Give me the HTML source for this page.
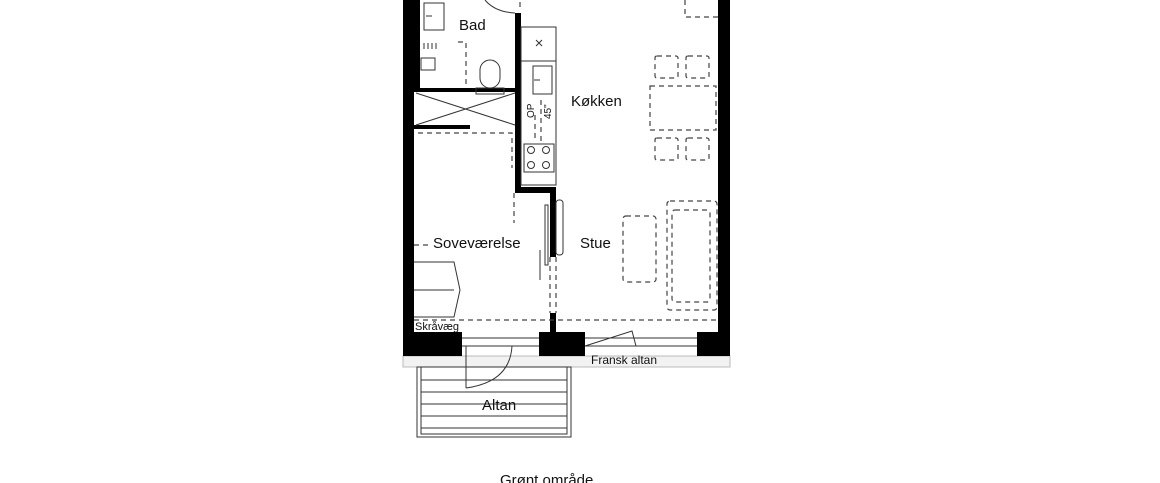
<!DOCTYPE html>
<html><head><meta charset="utf-8"><style>
html,body{margin:0;padding:0;background:#fff;overflow:hidden;}
svg{display:block;}
text{font-family:"Liberation Sans",sans-serif;fill:#111;}
</style></head><body>
<svg width="1160" height="483" viewBox="0 0 1160 483" xmlns="http://www.w3.org/2000/svg">
<rect x="403" y="356" width="327" height="11" fill="#f2f2f2" stroke="#bbb"/>
<g fill="#000">
<rect x="403" y="0" width="11" height="335"/>
<rect x="718" y="0" width="12" height="335"/>
<rect x="414" y="0" width="6" height="92"/>
<rect x="414" y="88" width="103" height="4"/>
<rect x="414" y="125" width="56" height="4"/>
<rect x="515" y="13" width="6" height="180"/>
<rect x="515" y="187" width="41" height="6"/>
<rect x="550" y="187" width="6" height="70"/>
<rect x="550" y="313" width="6" height="20"/>
<rect x="403" y="332" width="59" height="24"/>
<rect x="539" y="332" width="46" height="24"/>
<rect x="697" y="332" width="33" height="24"/>
</g>
<g fill="none" stroke="#333" stroke-width="1">
<rect x="424" y="3" width="20" height="27"/>
<line x1="426" y1="16" x2="432" y2="16"/>
<path d="M485 0 Q495 12 515 13"/>
<rect x="480" y="60" width="20" height="28" rx="10"/>
<rect x="476" y="88" width="28" height="6"/>
<rect x="421" y="58" width="14" height="12"/>
<path d="M424 43 v6 M428 43 v6 M432 43 v6 M436 43 v6"/>
<line x1="416" y1="93" x2="515" y2="125"/>
<line x1="416" y1="125" x2="515" y2="93"/>
<rect x="521" y="27" width="35" height="158"/>
<line x1="521" y1="61" x2="556" y2="61"/>
<rect x="533" y="66" width="19" height="28"/>
<line x1="534" y1="80" x2="540" y2="80"/>
<path d="M536 40 l6 6 M542 40 l-6 6"/>
<rect x="524" y="144" width="30" height="28"/>
<circle cx="531" cy="150" r="3.5"/><circle cx="546" cy="150" r="3.5"/>
<circle cx="531" cy="165" r="3.5"/><circle cx="546" cy="165" r="3.5"/>
<rect x="545" y="205" width="3" height="60"/>
<rect x="556" y="200" width="7" height="55" rx="3"/>
<line x1="540" y1="250" x2="540" y2="280"/>
<path d="M414 262 H454 L460 290 L454 317 H414 M414 290 H454"/>
<path d="M462 338 H539 M462 346 H539 M585 338 H697 M585 346 H697"/>
<path d="M585 346 L632 331 L636 346"/>
<rect x="417" y="367" width="154" height="70"/>
<rect x="421" y="367" width="146" height="67"/>
<path d="M421 380 H567 M421 392 H567 M421 404 H567 M421 416 H567 M421 428 H567"/>
<line x1="466" y1="346" x2="466" y2="388"/>
<path d="M466 388 Q510 382 512 346"/>
</g>
<g fill="none" stroke="#444" stroke-width="1.2" stroke-dasharray="5,4">
<path d="M458 42 H466 V88"/>
<path d="M520 2 V10"/>
<path d="M685 0 V17 H718"/>
<path d="M541 100 V142 M535 115 V140"/>
<path d="M418 133 H512 V168"/>
<path d="M414 245 H432"/>
<path d="M514 193 V223"/>
<path d="M550 257 V313 M556 257 V313"/>
<path d="M414 320 H718"/>
<rect x="655" y="56" width="23" height="22" rx="2"/>
<rect x="686" y="56" width="23" height="22" rx="2"/>
<rect x="650" y="86" width="66" height="44"/>
<rect x="655" y="138" width="23" height="22" rx="2"/>
<rect x="686" y="138" width="23" height="22" rx="2"/>
<rect x="623" y="216" width="33" height="66" rx="3"/>
<rect x="667" y="201" width="50" height="109" rx="3"/>
<rect x="672" y="210" width="38" height="92" rx="3"/>
</g>
<text x="459" y="30" font-size="15">Bad</text>
<text x="571" y="106" font-size="15">Køkken</text>
<text x="433" y="248" font-size="15">Soveværelse</text>
<text x="580" y="248" font-size="15">Stue</text>
<text x="415" y="330" font-size="11">Skråvæg</text>
<text x="591" y="364" font-size="12">Fransk altan</text>
<text x="482" y="410" font-size="15">Altan</text>
<text x="500" y="485" font-size="15">Grønt område</text>
<text x="0" y="0" font-size="10" transform="translate(534,118) rotate(-90)">OP</text>
<text x="0" y="0" font-size="10" transform="translate(551,119) rotate(-90)">45"</text>
</svg>
</body></html>
